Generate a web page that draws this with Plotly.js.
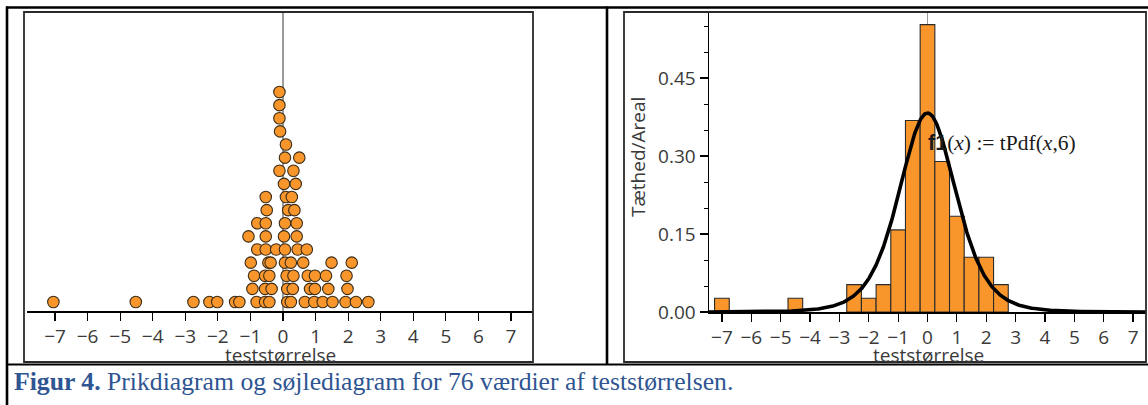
<!DOCTYPE html>
<html>
<head>
<meta charset="utf-8">
<script src="https://cdn.plot.ly/plotly-3.0.1.min.js"></script>
<style>
  html, body { margin: 0; padding: 0; background: #ffffff; }
  #chart { width: 1148px; height: 405px; }
</style>
</head>
<body>
<div id="chart"></div>
<script>
// ---------------- DATA ----------------
// Dot plot: value of each of the 76 dots and its stacking level (1 = bottom row)
const dotValues = [
  -7.05, -4.52, -2.75, -2.26, -2.02, -1.47, -1.34, -0.81, -0.55, -0.42, 0.13, 0.24, 0.67, 0.96, 1.22, 1.52, 1.92, 2.24, 2.62,
  -0.94, -0.55, -0.35, 0.13, 0.30, 0.83, 0.98, 1.39, 1.98,
  -0.89, -0.55, -0.42, 0.11, 0.32, 0.76, 0.98, 1.32, 1.95,
  -0.99, -0.45, -0.38, 0.06, 0.24, 0.62, 1.49, 2.11,
  -0.79, -0.53, -0.21, 0.06, 0.45, 0.73,
  -1.06, -0.53, 0.03, 0.42,
  -0.79, -0.53, 0.06, 0.42,
  -0.50, 0.16, 0.35,
  -0.53, 0.09, 0.27,
  0.03, 0.39,
  -0.11, 0.32,
  0.06, 0.50,
  0.09,
  -0.09,
  -0.11,
  -0.11,
  -0.11
];
const dotLevels = [
  1,1,1,1,1,1,1,1,1,1,1,1,1,1,1,1,1,1,1,
  2,2,2,2,2,2,2,2,2,
  3,3,3,3,3,3,3,3,3,
  4,4,4,4,4,4,4,4,
  5,5,5,5,5,5,
  6,6,6,6,
  7,7,7,7,
  8,8,8,
  9,9,9,
  10,10,
  11,11,
  12,12,
  13,
  14,
  15,
  16,
  17
];
// Histogram: bin centres (width 0.5) and counts
const binCenters = [-7, -4.5, -2.5, -2, -1.5, -1, -0.5, 0, 0.5, 1, 1.5, 2, 2.5];
const binCounts  = [ 1,    1,    2,  1,    2,  6,   14, 21,  11, 7,   4, 4,   2];
const binWidth = 0.5;
const nValues = 76;
const tDf = 6;                       // f1(x) := tPdf(x,6)
const xTickVals = [-7,-6,-5,-4,-3,-2,-1,0,1,2,3,4,5,6,7];

// ---------------- helpers ----------------
const W = 1148, H = 405;
const fx = p => p / W;
const fy = p => 1 - p / H;
const ORANGE = '#F8962B';

// t density with tDf degrees of freedom (the plotted function f1)
function lgamma(z) {
  const g = 7, c = [0.99999999999980993, 676.5203681218851, -1259.1392167224028,
    771.32342877765313, -176.61502916214059, 12.507343278686905,
    -0.13857109526572012, 9.9843695780195716e-6, 1.5056327351493116e-7];
  if (z < 0.5) return Math.log(Math.PI / Math.sin(Math.PI * z)) - lgamma(1 - z);
  z -= 1; let x = c[0];
  for (let i = 1; i < g + 2; i++) x += c[i] / (z + i);
  const t = z + g + 0.5;
  return 0.5 * Math.log(2 * Math.PI) + (z + 0.5) * Math.log(t) - t + Math.log(x);
}
function tPdf(x, v) {
  const lc = lgamma((v + 1) / 2) - lgamma(v / 2) - 0.5 * Math.log(v * Math.PI);
  return Math.exp(lc) * Math.pow(1 + x * x / v, -(v + 1) / 2);
}
const xr2 = [-7.44, 7.44];
const curveX = [], curveY = [];
for (let i = 0; i <= 600; i++) {
  const x = xr2[0] + (xr2[1] - xr2[0]) * i / 600;
  curveX.push(x); curveY.push(tPdf(x, tDf));
}

// ---------------- traces ----------------
const dots = {
  type: 'scatter', mode: 'markers', x: dotValues, y: dotLevels,
  xaxis: 'x', yaxis: 'y', cliponaxis: false, hoverinfo: 'skip',
  marker: { size: 11.5, color: ORANGE, line: { color: '#3b2c18', width: 1.1 } }
};
const bars = {
  type: 'bar', x: binCenters, y: binCounts.map(c => c / (nValues * binWidth)),
  width: binWidth, xaxis: 'x2', yaxis: 'y2', hoverinfo: 'skip',
  marker: { color: ORANGE, line: { color: '#2b2b2b', width: 1.1 } }
};
const curve = {
  type: 'scatter', mode: 'lines', x: curveX, y: curveY,
  xaxis: 'x2', yaxis: 'y2', hoverinfo: 'skip', cliponaxis: true,
  line: { color: '#000000', width: 3.6 }
};

// ---------------- layout ----------------
const tickFont = { family: 'Open Sans', size: 19, color: '#3a3a3a' };
const commonX = {
  tickvals: xTickVals, tickmode: 'array', ticks: 'outside', ticklen: 8, tickwidth: 1.2,
  tickcolor: '#000', showline: true, linecolor: '#000', linewidth: 1.5,
  showgrid: false, zeroline: true, zerolinecolor: '#9c9c9c', zerolinewidth: 1.2,
  tickfont: tickFont, fixedrange: true
};

const shapes = [
  // outer table lines
  { type: 'line', xref: 'paper', yref: 'paper', x0: fx(6), x1: fx(1148), y0: fy(7.5), y1: fy(7.5), line: { color: '#000', width: 2.6 } },
  { type: 'line', xref: 'paper', yref: 'paper', x0: fx(7), x1: fx(7), y0: fy(6.5), y1: fy(405), line: { color: '#000', width: 2.6 } },
  { type: 'line', xref: 'paper', yref: 'paper', x0: fx(607), x1: fx(607), y0: fy(6.5), y1: fy(365), line: { color: '#000', width: 2.6 } },
  { type: 'line', xref: 'paper', yref: 'paper', x0: fx(6), x1: fx(1148), y0: fy(364.5), y1: fy(364.5), line: { color: '#000', width: 2.2 } },
  // chart frames
  { type: 'rect', xref: 'paper', yref: 'paper', x0: fx(24), x1: fx(533), y0: fy(362), y1: fy(12), line: { color: '#2a2a2a', width: 1.8 } },
  { type: 'rect', xref: 'paper', yref: 'paper', x0: fx(624), x1: fx(1146), y0: fy(362), y1: fy(12), line: { color: '#2a2a2a', width: 1.8 } }
];

const annotations = [
  { xref: 'paper', yref: 'paper', x: fx(280), y: fy(355), text: 'teststørrelse', showarrow: false,
    xanchor: 'center', yanchor: 'middle', font: tickFont },
  { xref: 'paper', yref: 'paper', x: fx(928), y: fy(355), text: 'teststørrelse', showarrow: false,
    xanchor: 'center', yanchor: 'middle', font: tickFont },
  { xref: 'paper', yref: 'paper', x: fx(638), y: fy(157), text: 'Tæthed/Areal', showarrow: false,
    textangle: -90, xanchor: 'center', yanchor: 'middle', font: tickFont },
  { xref: 'paper', yref: 'paper', x: fx(926), y: fy(143),
    text: '<span style="font-family:Liberation Sans;font-weight:bold">f1</span>(<i>x</i>) := tPdf(<i>x</i>,6)',
    showarrow: false, xanchor: 'left', yanchor: 'middle',
    font: { family: 'Liberation Serif', size: 21.5, color: '#1a1a1a' } },
  { xref: 'paper', yref: 'paper', x: fx(12), y: fy(381),
    text: '<b>Figur 4.</b> Prikdiagram og søjlediagram for 76 værdier af teststørrelsen.',
    showarrow: false, xanchor: 'left', yanchor: 'middle',
    font: { family: 'Liberation Serif', size: 25.7, color: '#2F5592' } }
];

const layout = {
  width: W, height: H, margin: { l: 0, r: 0, t: 0, b: 0 },
  paper_bgcolor: '#ffffff', plot_bgcolor: 'rgba(0,0,0,0)', showlegend: false,
  font: tickFont, bargap: 0,
  xaxis: Object.assign({}, commonX, { domain: [fx(27), fx(533)], range: [-7.86, 7.675], anchor: 'y' }),
  yaxis: { domain: [fy(311), fy(12)], range: [0.314, 23.1], visible: false, fixedrange: true },
  xaxis2: Object.assign({}, commonX, { domain: [fx(709), fx(1146)], range: xr2, anchor: 'y2' }),
  yaxis2: {
    domain: [fy(312), fy(12)], range: [0, 0.577], anchor: 'x2',
    tickmode: 'linear', tick0: 0, dtick: 0.15, tickformat: '.2f',
    ticks: 'outside', ticklen: 8, tickwidth: 1.2, tickcolor: '#000',
    showline: true, linecolor: '#000', linewidth: 1.5, showgrid: false, zeroline: false,
    tickfont: tickFont, fixedrange: true,
    minor: { tickmode: 'linear', tick0: 0, dtick: 0.05, ticks: 'outside', ticklen: 4, tickcolor: '#000', tickwidth: 1, showgrid: false }
  },
  shapes: shapes,
  annotations: annotations
};

Plotly.newPlot('chart', [dots, bars, curve], layout, { staticPlot: true, displayModeBar: false });
</script>
</body>
</html>
